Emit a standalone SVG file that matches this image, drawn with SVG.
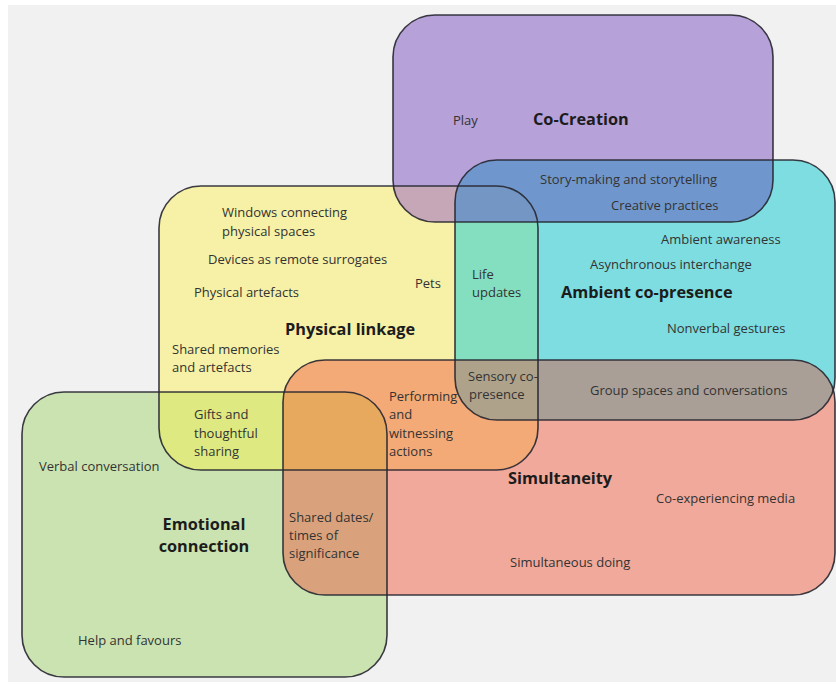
<svg xmlns="http://www.w3.org/2000/svg" xmlns:xlink="http://www.w3.org/1999/xlink" width="836" height="685" viewBox="0 0 836 685">
<style>
.t{font-family:"Open Sans","Noto Sans","Liberation Sans",sans-serif;font-size:13px;fill:#333333}
.h{font-family:"Open Sans","Noto Sans","Liberation Sans",sans-serif;font-size:16.3px;font-weight:bold;fill:#1c1c1c}
.o{fill:none;stroke:#262630;stroke-width:1.6;stroke-opacity:0.9}
</style>
<defs>
<rect id="sP" x="393" y="15" width="380" height="207" rx="42"/>
<rect id="sC" x="455" y="160" width="380" height="260" rx="42"/>
<rect id="sY" x="159" y="186" width="379" height="284" rx="42"/>
<rect id="sR" x="283" y="360" width="552" height="235" rx="42"/>
<rect id="sG" x="22" y="392" width="365" height="285" rx="42"/>
<clipPath id="cP"><use xlink:href="#sP"/></clipPath>
<clipPath id="cC"><use xlink:href="#sC"/></clipPath>
<clipPath id="cY"><use xlink:href="#sY"/></clipPath>
<clipPath id="cR"><use xlink:href="#sR"/></clipPath>
<clipPath id="cG"><use xlink:href="#sG"/></clipPath>
</defs>
<rect x="0" y="0" width="836" height="685" fill="#ffffff"/>
<rect x="8" y="5" width="828" height="677" fill="#f1f1f1"/>
<g id="fills">
<use xlink:href="#sP" fill="#b6a1d8"/>
<use xlink:href="#sC" fill="#7ddde0"/>
<use xlink:href="#sY" fill="#f6f1a6"/>
<use xlink:href="#sR" fill="#f1a99b"/>
<use xlink:href="#sG" fill="#cbe3b1"/>
<use xlink:href="#sC" fill="#7097cd" clip-path="url(#cP)"/>
<use xlink:href="#sY" fill="#c6a7b7" clip-path="url(#cP)"/>
<use xlink:href="#sY" fill="#84dfc0" clip-path="url(#cC)"/>
<use xlink:href="#sC" fill="#aa9f97" clip-path="url(#cR)"/>
<use xlink:href="#sY" fill="#f4aa77" clip-path="url(#cR)"/>
<use xlink:href="#sY" fill="#dfe981" clip-path="url(#cG)"/>
<use xlink:href="#sG" fill="#d9a27c" clip-path="url(#cR)"/>
<g clip-path="url(#cP)"><use xlink:href="#sY" fill="#7396c4" clip-path="url(#cC)"/></g>
<g clip-path="url(#cR)"><use xlink:href="#sY" fill="#aea28a" clip-path="url(#cC)"/></g>
<g clip-path="url(#cR)"><use xlink:href="#sY" fill="#e6a95e" clip-path="url(#cG)"/></g>
</g>
<g id="co-creation">
<use xlink:href="#sP" class="o"/>
<text class="t" x="453" y="125">Play</text>
<text class="h" x="533" y="125">Co-Creation</text>
<text class="t" x="540" y="184">Story-making and storytelling</text>
<text class="t" x="611" y="210">Creative practices</text>
</g>
<g id="ambient-co-presence">
<use xlink:href="#sC" class="o"/>
<text class="t" x="661" y="244">Ambient awareness</text>
<text class="t" x="590" y="269">Asynchronous interchange</text>
<text class="h" x="561" y="298">Ambient co-presence</text>
<text class="t" x="667" y="333">Nonverbal gestures</text>
<text class="t" x="472" y="279">Life</text>
<text class="t" x="472" y="297">updates</text>
<text class="t" x="590" y="395">Group spaces and conversations</text>
<text class="t" x="468" y="381">Sensory co-</text>
<text class="t" x="469" y="399">presence</text>
</g>
<g id="physical-linkage">
<use xlink:href="#sY" class="o"/>
<text class="t" x="222" y="217">Windows connecting</text>
<text class="t" x="222" y="236">physical spaces</text>
<text class="t" x="208" y="264">Devices as remote surrogates</text>
<text class="t" x="194" y="297">Physical artefacts</text>
<text class="t" x="415" y="288">Pets</text>
<text class="h" x="285" y="335">Physical linkage</text>
<text class="t" x="172" y="354">Shared memories</text>
<text class="t" x="172" y="372">and artefacts</text>
<text class="t" x="194" y="419">Gifts and</text>
<text class="t" x="194" y="438">thoughtful</text>
<text class="t" x="194" y="456">sharing</text>
</g>
<g id="simultaneity">
<use xlink:href="#sR" class="o"/>
<text class="t" x="389" y="401">Performing</text>
<text class="t" x="389" y="419">and</text>
<text class="t" x="389" y="438">witnessing</text>
<text class="t" x="389" y="456">actions</text>
<text class="h" x="508" y="484">Simultaneity</text>
<text class="t" x="656" y="503">Co-experiencing media</text>
<text class="t" x="510" y="567">Simultaneous doing</text>
</g>
<g id="emotional-connection">
<use xlink:href="#sG" class="o"/>
<text class="t" x="39" y="471">Verbal conversation</text>
<text class="h" x="204" y="530" text-anchor="middle">Emotional</text>
<text class="h" x="204" y="552" text-anchor="middle">connection</text>
<text class="t" x="289" y="522">Shared dates/</text>
<text class="t" x="289" y="540">times of</text>
<text class="t" x="289" y="558">significance</text>
<text class="t" x="78" y="645">Help and favours</text>
</g>
</svg>
